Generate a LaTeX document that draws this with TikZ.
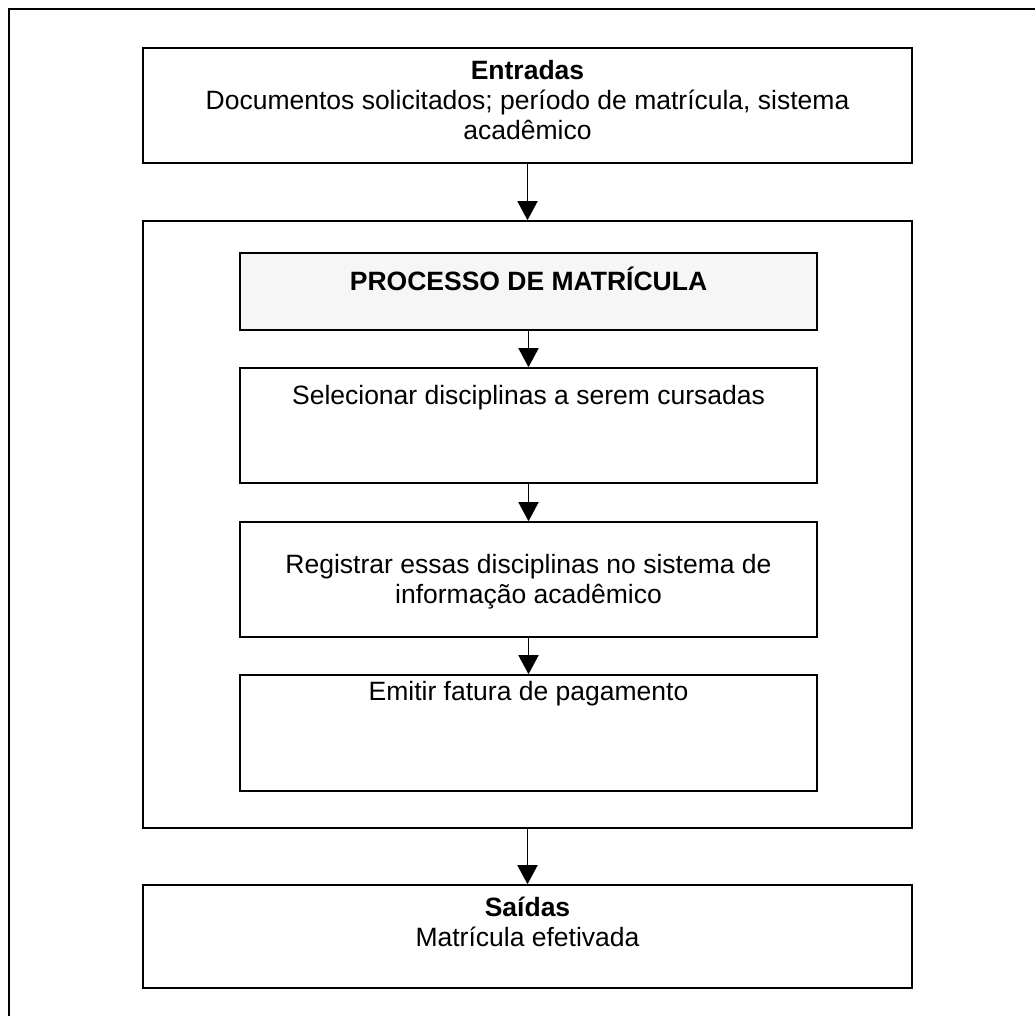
\documentclass[tikz,border=0pt]{standalone}
\usepackage{fontspec}
\setmainfont{Liberation Sans}
\usetikzlibrary{arrows.meta}
\begin{document}
\begin{tikzpicture}[x=1pt,y=-1pt,
  box/.style={draw,line width=1.6pt,inner sep=0pt},
  wide/.style={box,minimum width=769pt},
  narrow/.style={box,minimum width=577pt},
  txt/.style={font=\fontsize{26.5}{30}\selectfont,align=center,inner sep=0pt},
  flow/.style={-{Triangle[length=19pt,width=20pt]},line width=1.6pt}]
\useasboundingbox (0,0) rectangle (1035,1016);
% page frame
\draw[line width=1.2pt] (9,1016) -- (9,9) -- (1035,9);

% boxes
\node[wide,minimum height=115pt] (inp) at (527.5,105.5) {};
\node[wide,minimum height=607pt] (proc) at (527.5,524.5) {};
\node[narrow,minimum height=77pt,fill=gray!7] (title) at (528.5,291.5) {};
\node[narrow,minimum height=115pt] (sel) at (528.5,425.5) {};
\node[narrow,minimum height=115pt] (reg) at (528.5,579.5) {};
\node[narrow,minimum height=116pt] (emi) at (528.5,733) {};
\node[wide,minimum height=103pt] (out) at (527.5,936.5) {};

% texts (base anchor = baseline of the last line)
\node[txt] (inptxt) at (527.5,100.5) {\textbf{Entradas}\\Documentos solicitados; período de matrícula, sistema\\acadêmico};
\node[txt,anchor=base] (titletxt) at (528.5,290) {\textbf{PROCESSO DE MATRÍCULA}};
\node[txt,anchor=base] (seltxt) at (528.5,404) {Selecionar disciplinas a serem cursadas};
\node[txt,anchor=base] (regtxt) at (528.5,603) {Registrar essas disciplinas no sistema de\\informação acadêmico};
\node[txt,anchor=base] (emitxt) at (528.5,700) {Emitir fatura de pagamento};
\node[txt,anchor=base] (outtxt) at (527.5,946) {\textbf{Saídas}\\Matrícula efetivada};

% connectors
\draw[flow] (inp.south) -- (proc.north);
\draw[flow] (title.south) -- (sel.north);
\draw[flow] (sel.south) -- (reg.north);
\draw[flow] (reg.south) -- (emi.north);
\draw[flow] (proc.south) -- (out.north);
\end{tikzpicture}
\end{document}
